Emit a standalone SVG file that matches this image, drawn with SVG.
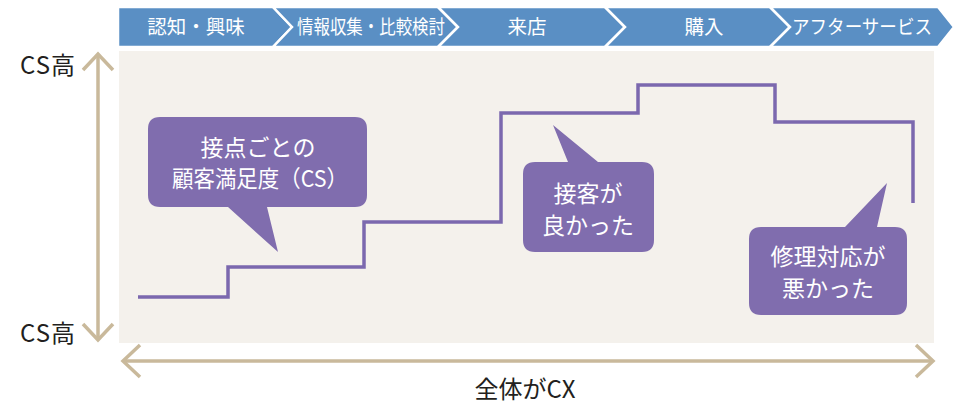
<svg xmlns="http://www.w3.org/2000/svg" width="960" height="411" viewBox="0 0 960 411">
  <defs>
    <style>
      .chev { fill: #5a8fc4; stroke: #ffffff; stroke-width: 2.5; stroke-linejoin: miter; }
      .chevtxt { font-family: "Noto Sans CJK JP", "Noto Sans", sans-serif; font-size: 19.5px; fill: #ffffff; text-anchor: middle; }
      .axis { fill: none; stroke: #c9b99b; stroke-width: 3.5; stroke-linecap: butt; }
      .axistxt { font-family: "Noto Sans CJK JP", "Noto Sans", sans-serif; font-size: 24px; fill: #231f20; }
      .bubble { fill: #806dae; }
      .btxt { font-family: "Noto Sans CJK JP", "Noto Sans", sans-serif; font-size: 23px; fill: #ffffff; text-anchor: middle; }
      .step { fill: none; stroke: #7b68ae; stroke-width: 3.5; stroke-linejoin: miter; }
    </style>
  </defs>
  <rect width="960" height="411" fill="#ffffff"/>

  <!-- panel -->
  <rect id="panel" x="119" y="51" width="815" height="292" fill="#f4f1ec"/>

  <!-- chevron stages -->
  <g id="stage1">
    <path class="chev" d="M118,7 H273 L292,27 L273,47 H118 Z"/>
    <text class="chevtxt" x="196" y="34">認知・興味</text>
  </g>
  <g id="stage2">
    <path class="chev" d="M273,7 H438 L458,27 L438,47 H273 L292,27 Z"/>
    <text class="chevtxt" x="371" y="34" textLength="148" lengthAdjust="spacingAndGlyphs">情報収集・比較検討</text>
  </g>
  <g id="stage3">
    <path class="chev" d="M438,7 H605 L625,27 L605,47 H438 L458,27 Z"/>
    <text class="chevtxt" x="527" y="34">来店</text>
  </g>
  <g id="stage4">
    <path class="chev" d="M605,7 H770 L790,27 L770,47 H605 L625,27 Z"/>
    <text class="chevtxt" x="704" y="34">購入</text>
  </g>
  <g id="stage5">
    <path class="chev" d="M770,7 H938 L954,27 L938,47 H770 L790,27 Z"/>
    <text class="chevtxt" x="862" y="34" textLength="140" lengthAdjust="spacingAndGlyphs">アフターサービス</text>
  </g>

  <!-- axes -->
  <g id="axes">
    <path class="axis" d="M98,55 V340"/>
    <path class="axis" d="M83,70 L98,54 L113,70"/>
    <path class="axis" d="M83,324 L98,340 L113,324"/>
    <path class="axis" d="M124,361 H932"/>
    <path class="axis" d="M140,345 L123,361 L140,377"/>
    <path class="axis" d="M916,345 L933,361 L916,377"/>
  </g>
  <text id="cs-top" class="axistxt" x="20" y="74" letter-spacing="1">CS高</text>
  <text id="cs-bottom" class="axistxt" x="20" y="342" letter-spacing="1">CS高</text>
  <text id="cx-label" class="axistxt" x="525" y="398" text-anchor="middle">全体がCX</text>

  <!-- connectors: CS step line -->
  <g id="connectors">
    <path class="step" d="M138,297 H228 V267 H364 V222 H501 V113 H638 V85 H775 V122 H913 V203"/>
  </g>

  <!-- bubbles -->
  <g id="bubble1">
    <path class="bubble" d="M160,117 H355 Q367,117 367,129 V195 Q367,207 355,207 H267 L278,252 L228,207 H160 Q148,207 148,195 V129 Q148,117 160,117 Z"/>
    <text class="btxt" x="258" y="156">接点ごとの</text>
    <text class="btxt" x="260" y="187" textLength="176" lengthAdjust="spacingAndGlyphs">顧客満足度（CS）</text>
  </g>
  <g id="bubble2">
    <path class="bubble" d="M535,162 H568 L553,125 L598,162 H642 Q654,162 654,174 V240 Q654,252 642,252 H535 Q523,252 523,240 V174 Q523,162 535,162 Z"/>
    <text class="btxt" x="588" y="202">接客が</text>
    <text class="btxt" x="588" y="234">良かった</text>
  </g>
  <g id="bubble3">
    <path class="bubble" d="M761,227 H845 L887,183 L877,227 H895 Q907,227 907,239 V303 Q907,315 895,315 H761 Q749,315 749,303 V239 Q749,227 761,227 Z"/>
    <text class="btxt" x="828" y="265">修理対応が</text>
    <text class="btxt" x="828" y="297">悪かった</text>
  </g>
</svg>
